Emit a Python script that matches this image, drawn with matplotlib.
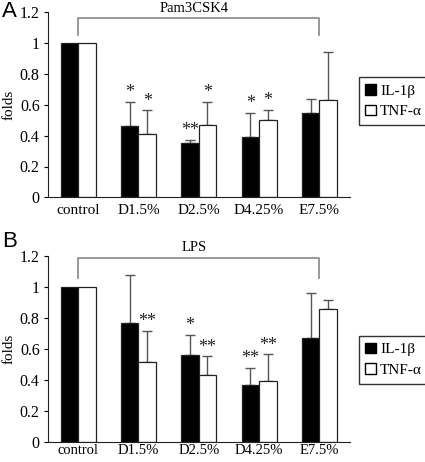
import matplotlib
matplotlib.use("Agg")
import matplotlib.pyplot as plt
import numpy as np
from matplotlib.patches import Patch

plt.rcParams['font.family'] = ['Liberation Serif', 'DejaVu Serif']

categories = ["control", "D1.5%", "D2.5%", "D4.25%", "E7.5%"]
series_names = ["IL-1\u03b2", "TNF-\u03b1"]

# Panel A (Pam3CSK4)
a_il1b = [1.0, 0.46, 0.35, 0.39, 0.55]
a_il1b_err = [0.0, 0.16, 0.025, 0.16, 0.09]
a_tnf = [1.0, 0.41, 0.47, 0.50, 0.63]
a_tnf_err = [0.0, 0.155, 0.15, 0.067, 0.315]
a_il1b_sig = ["", "*", "**", "*", ""]
a_tnf_sig = ["", "*", "*", "*", ""]

# Panel B (LPS)
b_il1b = [1.0, 0.766, 0.557, 0.366, 0.669]
b_il1b_err = [0.0, 0.31, 0.133, 0.111, 0.29]
b_tnf = [1.0, 0.516, 0.428, 0.389, 0.854]
b_tnf_err = [0.0, 0.202, 0.123, 0.174, 0.06]
b_il1b_sig = ["", "", "*", "**", ""]
b_tnf_sig = ["", "**", "**", "**", ""]

panel_labels = ["A", "B"]
treatments = ["Pam3CSK4", "LPS"]
yticks = [0, 0.2, 0.4, 0.6, 0.8, 1.0, 1.2]
ytick_labels = ["0", "0.2", "0.4", "0.6", "0.8", "1", "1.2"]

fig = plt.figure(figsize=(4.25, 4.62), dpi=100)
W, H = 425, 462
axA = fig.add_axes([48/W, 1-197.3/H, (349.5-48)/W, 184.8/H])
axB = fig.add_axes([48/W, 1-441.5/H, (349.5-48)/W, 185.5/H])

bw = 0.29
edge = '#222222'
errc = '#555555'

panels = [
    (axA, a_il1b, a_il1b_err, a_tnf, a_tnf_err, a_il1b_sig, a_tnf_sig, 1.165, 5, 11),
    (axB, b_il1b, b_il1b_err, b_tnf, b_tnf_err, b_il1b_sig, b_tnf_sig, 1.19, 1.5, 10.5),
]

for i, (ax, v1, e1, v2, e2, s1, s2, brk, xpad, xfs) in enumerate(panels):
    x = np.arange(len(categories))
    ax.bar(x - bw/2, v1, bw, color='black', edgecolor=edge, linewidth=0.9, zorder=2)
    ax.bar(x + bw/2, v2, bw, color='white', edgecolor=edge, linewidth=0.9, zorder=2)
    for xi, v, e in zip(x - bw/2, v1, e1):
        if e > 0:
            ax.errorbar(xi, v, yerr=[[0], [e]], fmt='none', ecolor=errc, elinewidth=1.0,
                        capsize=3.5, capthick=1.0, zorder=1)
    for xi, v, e in zip(x + bw/2, v2, e2):
        if e > 0:
            ax.errorbar(xi, v, yerr=[[0], [e]], fmt='none', ecolor=errc, elinewidth=1.0,
                        capsize=3.5, capthick=1.0, zorder=1)
    for xi, v, e, s in zip(x - bw/2, v1, e1, s1):
        if s:
            ax.text(xi, v + e + 0.005, s, ha='center', va='bottom', fontsize=13,
                    color='#222222')
    for xi, v, e, s in zip(x + bw/2, v2, e2, s2):
        if s:
            ax.text(xi, v + e + 0.005, s, ha='center', va='bottom', fontsize=13,
                    color='#222222')

    # bracket
    ax.plot([0, 0, 4, 4], [1.055, brk, brk, 1.055], color='#888888', lw=1.2,
            clip_on=False, zorder=3)
    ax.text(1.92, brk + 0.02, treatments[i], ha='center', va='bottom', fontsize=10.5)

    ax.set_xlim(-0.5, 4.5)
    ax.set_ylim(0, 1.2)
    ax.set_yticks(yticks)
    ax.set_yticklabels(ytick_labels, fontsize=11.5)
    ax.set_xticks(x)
    ax.set_xticklabels(categories, fontsize=xfs)
    ax.tick_params(axis='x', length=0, pad=xpad)
    ax.tick_params(axis='y', length=3, direction='out', pad=3)
    for sp in ['top', 'right']:
        ax.spines[sp].set_visible(False)
    ax.spines['left'].set_color('#222222')
    ax.spines['bottom'].set_color('#222222')
    ax.set_ylabel('folds', fontsize=11, labelpad=3)

    handles = [Patch(facecolor='black', edgecolor='black'),
               Patch(facecolor='white', edgecolor='black')]
    leg = ax.legend(handles, series_names, loc='center left',
                    bbox_to_anchor=(1.03, 0.52 if i == 0 else 0.44),
                    fontsize=11, frameon=True, fancybox=False, edgecolor='black',
                    handlelength=0.7, handleheight=0.7, handletextpad=0.25,
                    borderpad=0.45, labelspacing=0.45, borderaxespad=0)
    leg.get_frame().set_linewidth(1.0)

fig.text(2/W, 1-1/H, "A", fontsize=16, family='Liberation Sans', va='top', ha='left')
fig.text(2/W, 1-231/H, "B", fontsize=16, family='Liberation Sans', va='top', ha='left')

fig.savefig("out.png", dpi=100)
